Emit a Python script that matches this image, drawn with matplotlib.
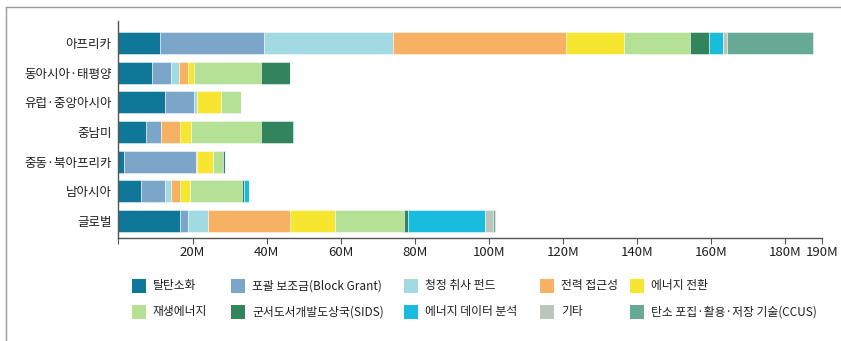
import matplotlib
matplotlib.use("Agg")
import matplotlib.pyplot as plt
from matplotlib.patches import Rectangle
from matplotlib.lines import Line2D
import numpy as np

plt.rcParams['font.family'] = ['Noto Sans CJK KR', 'DejaVu Sans']

regions = ['아프리카', '동아시아·태평양', '유럽·중앙아시아', '중남미',
           '중동·북아프리카', '남아시아', '글로벌']

series_names = ['탈탄소화', '포괄 보조금(Block Grant)', '청정 취사 펀드', '전력 접근성',
                '에너지 전환', '재생에너지', '군서도서개발도상국(SIDS)',
                '에너지 데이터 분석', '기타', '탄소 포집·활용·저장 기술(CCUS)']

# funding per region, millions of USD
decarbonization = [11.2, 9.1, 12.5, 7.5, 1.4, 6.1, 16.6]
block_grant     = [28.1, 5.1, 7.9, 4.1, 19.4, 6.5, 2.2]
clean_cooking   = [34.9, 2.1, 0.8, 0.0, 0.0, 1.7, 5.5]
power_access    = [46.7, 2.5, 0.0, 5.0, 0.3, 2.3, 22.1]
transition      = [15.7, 1.7, 6.4, 3.1, 4.5, 2.6, 12.0]
renewables      = [17.8, 18.0, 5.4, 18.8, 2.5, 14.2, 18.6]
sids            = [5.0, 7.7, 0.0, 8.5, 0.6, 0.4, 1.3]
data_analysis   = [3.8, 0.0, 0.0, 0.3, 0.0, 1.4, 20.6]
other           = [1.2, 0.0, 0.0, 0.0, 0.0, 0.0, 2.2]
ccus            = [23.2, 0.0, 0.0, 0.0, 0.0, 0.0, 0.5]

tick_values = [0, 20, 40, 60, 80, 100, 120, 140, 160, 180, 190]
tick_labels = ['', '20M', '40M', '60M', '80M', '100M', '120M', '140M',
               '160M', '180M', '190M']

colors = ['#0f7899', '#7ba6c9', '#a1dae2', '#f6b163', '#f7e62f',
          '#b5e196', '#31845b', '#19bcdc', '#bcc5bc', '#66a994']

series = [decarbonization, block_grant, clean_cooking, power_access, transition,
          renewables, sids, data_analysis, other, ccus]

W, H = 841, 341
fig = plt.figure(figsize=(W / 100, H / 100), dpi=100)
ax = fig.add_axes([118.5 / W, 1 - 238 / H, (822 - 118.5) / W, (238 - 21) / H])

y = np.arange(len(regions))
left = np.zeros(len(regions))
for vals, col, name in zip(series, colors, series_names):
    vals = np.array(vals)
    ax.barh(y, vals, left=left, height=0.74, color=col, label=name,
            edgecolor=(1, 1, 1, 0.55), linewidth=0.6)
    left += vals

ax.set_xlim(0, 190)
ax.set_ylim(6.57, -0.74)
ax.set_yticks(y)
ax.set_yticklabels(regions, fontsize=9, color='#1e1e1e')
ax.set_xticks(tick_values)
ax.set_xticklabels(tick_labels, fontsize=9.5, color='#1e1e1e')
ax.tick_params(axis='y', length=0, pad=5)
ax.tick_params(axis='x', length=4, width=0.8, color='#555555', pad=1.5)
for s in ['top', 'right']:
    ax.spines[s].set_visible(False)
for s in ['left', 'bottom']:
    ax.spines[s].set_color('#555555')
    ax.spines[s].set_linewidth(1.0)

# legend laid out in two rows of five
col_x = [132, 231, 404, 540, 630]
row_y = [286, 312]
sq = 14
for i, (name, col) in enumerate(zip(series_names, colors)):
    r, c = divmod(i, 5)
    x0 = col_x[c]
    yc = row_y[r]
    fig.add_artist(Rectangle((x0 / W, 1 - (yc + sq / 2) / H), sq / W, sq / H,
                             transform=fig.transFigure, facecolor=col,
                             edgecolor='none'))
    fig.text((x0 + 21) / W, 1 - yc / H, name, fontsize=8.5, color='#1e1e1e',
             ha='left', va='center')

# outer frame lines
fig.add_artist(Line2D([6 / W, 1.0], [1 - 7 / H, 1 - 7 / H],
                      transform=fig.transFigure, color='#9a9a9a', linewidth=1.0))
fig.add_artist(Line2D([6 / W, 6 / W], [1 - 7 / H, 0.0],
                      transform=fig.transFigure, color='#9a9a9a', linewidth=1.0))

fig.savefig('out.png', dpi=100)
